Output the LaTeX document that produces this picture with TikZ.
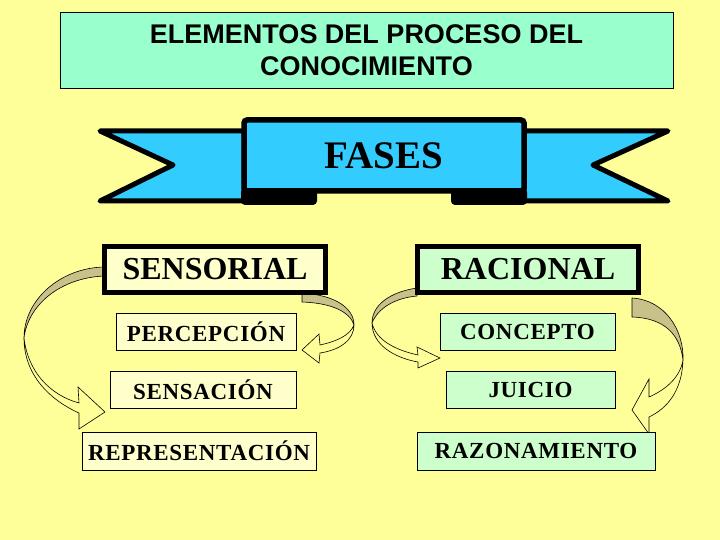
\documentclass[tikz,border=0pt]{standalone}
\usepackage{fontspec}
\setmainfont{Liberation Serif}
\newfontfamily\titlefont{Liberation Sans}
\newfontfamily\spacedfont[LetterSpace=3]{Liberation Serif}
\definecolor{bgyellow}{HTML}{FFFF99}
\definecolor{titlegreen}{HTML}{99FFCC}
\definecolor{ribbonblue}{HTML}{33CCFF}
\definecolor{cream}{HTML}{FFFFCC}
\definecolor{mint}{HTML}{CCFFCC}
\definecolor{khaki}{HTML}{C8C28A}
\tikzset{
  ribbon/.style={draw=black, fill=ribbonblue, line width=5pt, line join=round},
  tabshape/.style={fill=black, rounded corners=4pt},
  bannerbox/.style={draw=black, fill=ribbonblue, line width=5.5pt, rounded corners=3pt,
    minimum width=280pt, minimum height=71pt, inner sep=0pt,
    font=\bfseries\fontsize{39}{44}\selectfont},
  bigbox/.style={draw=black, line width=5pt, minimum width=221pt, minimum height=46pt,
    inner sep=0pt, font=\bfseries\fontsize{32}{36}\selectfont},
  smallbox/.style={draw=black, line width=0.8pt, minimum height=37pt, inner sep=0pt,
    font=\spacedfont\bfseries\fontsize{23}{27}\selectfont},
  khakiband/.style={fill=khaki, draw=black, line width=0.6pt, line join=round},
  bandline/.style={draw=black, line width=0.6pt, line join=miter},
}
\begin{document}
\begin{tikzpicture}[x=1pt,y=-1pt]
\fill[bgyellow] (0,0) rectangle (720,540);
\useasboundingbox (0,0) rectangle (720,540);

% title
\node[draw=black, fill=titlegreen, line width=0.8pt, minimum width=613pt, minimum height=76pt,
  inner sep=0pt, align=center, font=\titlefont\bfseries\fontsize{27}{32}\selectfont]
  (title) at (366.5,50) {ELEMENTOS DEL PROCESO DEL\\CONOCIMIENTO};

% banner
\draw[ribbon] (100,131) -- (244,131) -- (244,201) -- (100,201) -- (173,165) -- cycle;
\draw[ribbon] (668,131) -- (524,131) -- (524,201) -- (668,201) -- (593,165) -- cycle;
\fill[tabshape] (241,188) rectangle (317,205);
\fill[tabshape] (451,188) rectangle (527,205);
\node[bannerbox] (fases) at (384,155.5) {FASES};

% curved arrows
\filldraw[khakiband] (104,267) .. controls (60,268) and (24,300) .. (24,338)
  .. controls (28,305) and (60,278) .. (104,276) -- cycle;
\draw[bandline] (24,338) .. controls (24,375) and (50,400) .. (79,413) -- (79,429) -- (105,412)
  -- (78,387) -- (79,403) .. controls (50,395) and (28,372) .. (24,338);

\filldraw[khakiband] (302,293) .. controls (335,295) and (354,308) .. (354,325)
  .. controls (350,312) and (332,303) .. (302,302) -- cycle;
\draw[bandline] (354,325) .. controls (354,340) and (340,350) .. (320,353) -- (319,363) -- (302,350)
  -- (319,334) -- (320,345) .. controls (338,341) and (350,335) .. (354,325);

\filldraw[khakiband] (417,288) .. controls (390,292) and (372,305) .. (372,323)
  .. controls (378,308) and (395,298) .. (417,296) -- cycle;
\draw[bandline] (372,323) .. controls (372,345) and (395,358) .. (418,362) -- (418,368) -- (440,358)
  -- (417,347) -- (418,355) .. controls (395,350) and (376,340) .. (372,323);

\filldraw[khakiband] (632,298) .. controls (665,300) and (684,330) .. (683,360)
  .. controls (680,335) and (665,318) .. (632,317) -- cycle;
\draw[bandline] (683,360) .. controls (682,390) and (668,408) .. (649,417) -- (649,434) -- (632,410)
  -- (649,379) -- (649,397) .. controls (665,390) and (680,378) .. (683,360);

% left column
\node[bigbox, fill=cream] (sens) at (215,269.5) {SENSORIAL};
\node[smallbox, fill=cream, minimum width=180pt] (perc) at (206,331.5) {PERCEPCIÓN};
\node[smallbox, fill=cream, minimum width=186pt] (sensa) at (203,389.5) {SENSACIÓN};
\node[smallbox, fill=cream, minimum width=234pt, minimum height=38pt] (repr) at (199,451) {REPRESENTACIÓN};

% right column
\node[bigbox, fill=mint] (rac) at (528,269.5) {RACIONAL};
\node[smallbox, fill=mint, minimum width=175pt] (conc) at (527.5,331.5) {CONCEPTO};
\node[smallbox, fill=mint, minimum width=169pt] (juic) at (530.5,389.5) {JUICIO};
\node[smallbox, fill=mint, minimum width=238pt, minimum height=38pt] (razo) at (536,451) {RAZONAMIENTO};
\end{tikzpicture}
\end{document}
